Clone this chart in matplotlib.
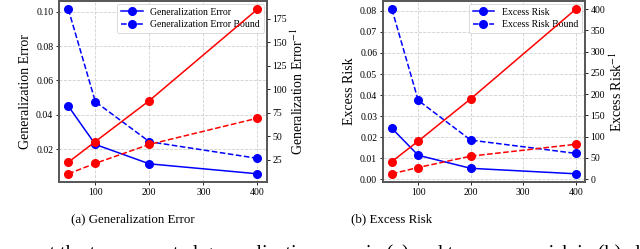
import numpy as np
import matplotlib.pyplot as plt

plt.rcParams['font.family'] = ['Liberation Serif', 'DejaVu Serif']
plt.rcParams['mathtext.fontset'] = 'stix'

# sample sizes
n = [50, 100, 200, 400]

# (a) generalization error
gen_err = [0.0450, 0.0227, 0.0114, 0.0056]
gen_bound = [0.1015, 0.0476, 0.0243, 0.0146]
gen_err_inv = [22.2, 44.2, 87.9, 185.3]
gen_bound_inv = [9.85, 21.0, 41.2, 69.1]

# (b) excess risk
ex_risk = [0.0242, 0.0114, 0.0052, 0.0026]
ex_bound = [0.0808, 0.0375, 0.0186, 0.0123]
ex_risk_inv = [41.4, 89.4, 189.0, 400.0]
ex_bound_inv = [12.5, 27.3, 54.0, 82.0]

fig = plt.figure(figsize=(6.4, 2.49), dpi=100)


def panel(rect, y, yb, yi, ybi, label, caption, cap_x):
    ax = fig.add_axes(rect)
    ax.plot(n, y, 'bo-', markersize=5.5, linewidth=1.1, label=label)
    ax.plot(n, yb, 'bo--', markersize=5.5, linewidth=1.1, label=label + ' Bound')
    ax.set_ylabel(label, fontsize=10, labelpad=3)
    ax.set_xticks([100, 200, 300, 400])
    ax.grid(True, linestyle='--', color='#d0d0d0', linewidth=0.6)
    ax.tick_params(labelsize=7, length=2.5, width=0.6, pad=1.5)
    leg = ax.legend(loc='upper right', fontsize=7, framealpha=1,
                    borderpad=0.4, handlelength=2.2, labelspacing=0.35,
                    borderaxespad=0.3)
    leg.get_frame().set_linewidth(0.5)

    ax2 = ax.twinx()
    ax2.plot(n, yi, 'ro-', markersize=5.5, linewidth=1.1)
    ax2.plot(n, ybi, 'ro--', markersize=5.5, linewidth=1.1)
    ax2.set_ylabel(label + r'$^{-1}$', fontsize=10, labelpad=2)
    ax2.tick_params(labelsize=7, length=2.5, width=0.6, pad=1.5)
    for a in (ax, ax2):
        for s in a.spines.values():
            s.set_color('#555555')
            s.set_linewidth(1.2)
    fig.text(cap_x, 0.12, caption, fontsize=9.3, ha='center', va='center')
    return ax, ax2


panel([0.092, 0.269, 0.325, 0.727], gen_err, gen_bound, gen_err_inv, gen_bound_inv,
      'Generalization Error', '(a) Generalization Error', 0.207)
panel([0.598, 0.269, 0.316, 0.727], ex_risk, ex_bound, ex_risk_inv, ex_bound_inv,
      'Excess Risk', '(b) Excess Risk', 0.612)

fig.text(-0.004, -0.04, 'present the true expected generalization error in (a) and true excess risk in (b) al',
         fontsize=14.5, ha='left', va='baseline')

fig.savefig('out.png', dpi=100)
